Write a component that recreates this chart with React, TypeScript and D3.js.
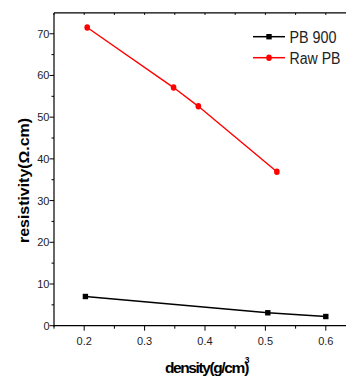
import { useEffect, useRef } from "react"
import * as d3 from "d3"

const pb900Density = [0.202, 0.504, 0.6]
const pb900Resistivity = [7.0, 3.1, 2.2]
const rawDensity = [0.205, 0.348, 0.389, 0.519]
const rawResistivity = [71.5, 57.1, 52.6, 36.9]

const xTicks = [0.2, 0.3, 0.4, 0.5, 0.6]
const xMinor = [0.15, 0.25, 0.35, 0.45, 0.55, 0.65]
const yTicks = [0, 10, 20, 30, 40, 50, 60, 70]
const yMinor = [5, 15, 25, 35, 45, 55, 65]

const seriesNames = ["PB 900", "Raw PB"]

export default function App() {

  const ref = useRef<SVGSVGElement | null>(null)

  useEffect(()=>{

    const svg = d3.select(ref.current)
    svg.selectAll("*").remove()

    const width = 346
    const height = 376
    const font = "'Liberation Sans', Arial, sans-serif"

    const x = d3.scaleLinear().domain([0.15, 0.65]).range([54, 356])
    const y = d3.scaleLinear().domain([0, 75]).range([325.7, 12.9])

    svg.attr("width", width).attr("height", height)

    const g = svg.append("g")

    const x0 = x(0.15), y0 = y(0), yTop = y(75)

    // axis lines
    g.append("line").attr("x1", x0).attr("x2", width).attr("y1", y0).attr("y2", y0)
      .attr("stroke", "#000").attr("stroke-width", 1.2)
    g.append("line").attr("x1", x0).attr("x2", width).attr("y1", yTop).attr("y2", yTop)
      .attr("stroke", "#000").attr("stroke-width", 1.2)
    g.append("line").attr("x1", x0).attr("x2", x0).attr("y1", yTop).attr("y2", y0 + 1)
      .attr("stroke", "#000").attr("stroke-width", 1.2)

    // x ticks
    g.selectAll(".xt").data(xTicks).enter().append("line")
      .attr("x1", d=>x(d)).attr("x2", d=>x(d)).attr("y1", y0).attr("y2", y0 + 5)
      .attr("stroke", "#000").attr("stroke-width", 1)
    g.selectAll(".xm").data(xMinor).enter().append("line")
      .attr("x1", d=>x(d)).attr("x2", d=>x(d)).attr("y1", y0).attr("y2", y0 + 3)
      .attr("stroke", "#000").attr("stroke-width", 1)
    g.selectAll(".xtop").data([...xTicks, ...xMinor]).enter().append("line")
      .attr("x1", d=>x(d)).attr("x2", d=>x(d)).attr("y1", yTop).attr("y2", yTop + 2)
      .attr("stroke", "#000").attr("stroke-width", 1)
    g.selectAll(".xl").data(xTicks).enter().append("text")
      .attr("x", d=>x(d)).attr("y", y0 + 19.5)
      .attr("text-anchor", "middle")
      .attr("font-family", font).attr("font-size", 11).attr("fill", "#222")
      .text(d=>d3.format(".1f")(d))

    // y ticks
    g.selectAll(".yt").data(yTicks).enter().append("line")
      .attr("x1", x0 - 4.5).attr("x2", x0).attr("y1", d=>y(d)).attr("y2", d=>y(d))
      .attr("stroke", "#000").attr("stroke-width", 1)
    g.selectAll(".ym").data(yMinor).enter().append("line")
      .attr("x1", x0 - 2.5).attr("x2", x0).attr("y1", d=>y(d)).attr("y2", d=>y(d))
      .attr("stroke", "#000").attr("stroke-width", 1)
    g.selectAll(".yl").data(yTicks).enter().append("text")
      .attr("x", x0 - 4.5).attr("y", d=>y(d) + 4)
      .attr("text-anchor", "end")
      .attr("font-family", font).attr("font-size", 11).attr("fill", "#222")
      .text(d=>d)

    // axis titles
    g.append("text")
      .attr("transform", "translate(29,180.5) rotate(-90)")
      .attr("text-anchor", "middle")
      .attr("font-family", font).attr("font-size", 15.5).attr("font-weight", "bold")
      .attr("textLength", 125).attr("lengthAdjust", "spacingAndGlyphs")
      .text("resistivity(Ω.cm)")

    const xt = g.append("text")
      .attr("x", 165).attr("y", 373)
      .attr("font-family", font).attr("font-size", 15.5).attr("font-weight", "bold")
      .attr("letter-spacing", -1.4)
    xt.append("tspan").text("density(g/cm")
    xt.append("tspan").attr("font-size", 8.5).attr("dy", -10).attr("dx", 1).text("3")
    xt.append("tspan").attr("dy", 10).attr("dx", -4).text(")")

    const line = d3.line<[number, number]>().x(d=>x(d[0])).y(d=>y(d[1]))

    const pb = pb900Density.map((d, i)=>[d, pb900Resistivity[i]] as [number, number])
    const raw = rawDensity.map((d, i)=>[d, rawResistivity[i]] as [number, number])

    g.append("path").datum(pb).attr("d", line).attr("fill", "none")
      .attr("stroke", "#000").attr("stroke-width", 1.5)
    g.selectAll(".pbm").data(pb).enter().append("rect")
      .attr("x", d=>x(d[0]) - 2.7).attr("y", d=>y(d[1]) - 2.7)
      .attr("width", 5.4).attr("height", 5.4).attr("fill", "#000")

    g.append("path").datum(raw).attr("d", line).attr("fill", "none")
      .attr("stroke", "#ff0000").attr("stroke-width", 1.4)
    g.selectAll(".rawm").data(raw).enter().append("ellipse")
      .attr("cx", d=>x(d[0])).attr("cy", d=>y(d[1]))
      .attr("rx", 2.8).attr("ry", 3.3).attr("fill", "#ff0000")

    // legend
    const legend = g.append("g")
    const rows = [
      { name: seriesNames[0], color: "#000", y: 36.7, shape: "square", len: 47 },
      { name: seriesNames[1], color: "#ff0000", y: 57.7, shape: "circle", len: 51 }
    ]
    rows.forEach(r=>{
      legend.append("line").attr("x1", 253).attr("x2", 285).attr("y1", r.y).attr("y2", r.y)
        .attr("stroke", r.color).attr("stroke-width", 1.5)
      if (r.shape === "square") {
        legend.append("rect").attr("x", 269 - 2.7).attr("y", r.y - 2.7)
          .attr("width", 5.4).attr("height", 5.4).attr("fill", r.color)
      } else {
        legend.append("ellipse").attr("cx", 269).attr("cy", r.y)
          .attr("rx", 2.8).attr("ry", 3.3).attr("fill", r.color)
      }
      legend.append("text").attr("x", 289.5).attr("y", r.y + 6)
        .attr("font-family", font).attr("font-size", 16).attr("fill", "#222")
        .attr("textLength", r.len)
        .attr("lengthAdjust", "spacingAndGlyphs")
        .text(r.name)
    })

  },[])

  return (
    <>
      <style>{`body{margin:0}`}</style>
      <svg ref={ref} style={{ display: "block" }} />
    </>
  )
}
